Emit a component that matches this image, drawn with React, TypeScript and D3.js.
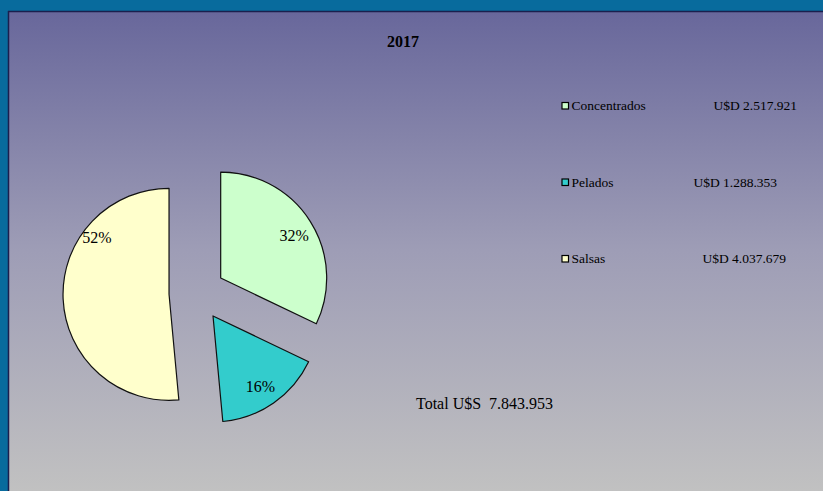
import React from "react";
import * as d3 from "d3";

const title = "2017";
const categories = ["Concentrados", "Pelados", "Salsas"];
const values = [2517921, 1288353, 4037679];
const valueLabels = ["U$D 2.517.921", "U$D 1.288.353", "U$D 4.037.679"];
const colors = ["#ccffcc", "#33cccc", "#ffffcc"];
const totalLabel = "Total U$S  7.843.953";
// legend value text x-offset (from legend text start), as laid out in the original
const legendValueOffsets = [142, 122, 131];
// label angle adjustments (degrees) for Excel's best-fit label placement
const labelAngleAdjust = [2, 1, 41];

const W = 823;
const H = 491;

// percentages rounded so they sum to 100 (largest remainder)
function roundedPercents(vals: number[]): number[] {
  const total = d3.sum(vals);
  const raw = vals.map((v) => (v / total) * 100);
  const fl = raw.map((x) => Math.floor(x));
  let rest = 100 - d3.sum(fl);
  const order = raw.map((x, i) => [x - fl[i], i]).sort((a, b) => b[0] - a[0]);
  for (let k = 0; k < order.length && rest > 0; k++, rest--) fl[order[k][1]] += 1;
  return fl;
}

export default function App() {
  const cx = 197;
  const cy = 293;
  const r = 106;
  const explode = 28;
  const pie = d3.pie<number>().sort(null).value((d) => d);
  const arcs = pie(values);
  const arc = d3.arc<d3.PieArcDatum<number>>().innerRadius(0).outerRadius(r);
  const pcts = roundedPercents(values);
  const legendY = d3.scalePoint<string>().domain(categories).range([106, 259]);
  const labelR = 85;

  return (
    <div style={{ position: "fixed", left: 0, top: 0, width: W, height: H }}>
      <svg width={W} height={H} style={{ display: "block" }}>
        <defs>
          <linearGradient id="bg" x1="0" y1="0" x2="0" y2="1">
            <stop offset="0%" stopColor="#68679b" />
            <stop offset="50%" stopColor="#9e9db6" />
            <stop offset="100%" stopColor="#c1c1c1" />
          </linearGradient>
        </defs>
        <rect x={0} y={0} width={W} height={H} fill="#086b9d" />
        <rect x={8} y={11} width={W - 8} height={H - 11} fill="url(#bg)" />
        <line x1={8} y1={11.5} x2={W} y2={11.5} stroke="#1b1f4e" strokeWidth={1.5} />
        <line x1={8.5} y1={11} x2={8.5} y2={H} stroke="#1b1f4e" strokeWidth={1.5} />

        <text
          x={403}
          y={47}
          textAnchor="middle"
          fontFamily="'Liberation Serif', 'Times New Roman', serif"
          fontWeight="bold"
          fontSize={16}
          fill="#000"
        >
          {title}
        </text>

        <g transform={`translate(${cx},${cy})`}>
          {arcs.map((a, i) => {
            const mid = (a.startAngle + a.endAngle) / 2;
            const ox = explode * Math.sin(mid);
            const oy = -explode * Math.cos(mid);
            const la = mid + (labelAngleAdjust[i] * Math.PI) / 180;
            const lr = i === 2 ? labelR + 7 : labelR;
            const lx = ox + lr * Math.sin(la);
            const ly = oy - lr * Math.cos(la);
            return (
              <g key={categories[i]}>
                <path
                  d={arc(a) || ""}
                  transform={`translate(${ox},${oy})`}
                  fill={colors[i]}
                  stroke="#111"
                  strokeWidth={1.2}
                  strokeLinejoin="round"
                />
                <text
                  x={lx}
                  y={ly + 5.5}
                  textAnchor="middle"
                  fontFamily="'Liberation Serif', 'Times New Roman', serif"
                  fontSize={16}
                  fill="#000"
                >
                  {pcts[i] + "%"}
                </text>
              </g>
            );
          })}
        </g>

        {categories.map((c, i) => {
          const y = legendY(c) as number;
          return (
            <g key={c}>
              <rect x={562} y={y - 3.5} width={6.5} height={6.5} fill={colors[i]} stroke="#000" strokeWidth={1.2} />
              <text
                x={571.5}
                y={y + 4}
                fontFamily="'Liberation Serif', 'Times New Roman', serif"
                fontSize={13.5}
                fill="#000"
              >
                {c}
              </text>
              <text
                x={571.5 + legendValueOffsets[i]}
                y={y + 4}
                fontFamily="'Liberation Serif', 'Times New Roman', serif"
                fontSize={13.5}
                fill="#000"
              >
                {valueLabels[i]}
              </text>
            </g>
          );
        })}

        <text
          x={416}
          y={408.5}
          fontFamily="'Liberation Serif', 'Times New Roman', serif"
          fontSize={16}
          fill="#000"
          style={{ whiteSpace: "pre" }}
        >
          {totalLabel}
        </text>
      </svg>
    </div>
  );
}
